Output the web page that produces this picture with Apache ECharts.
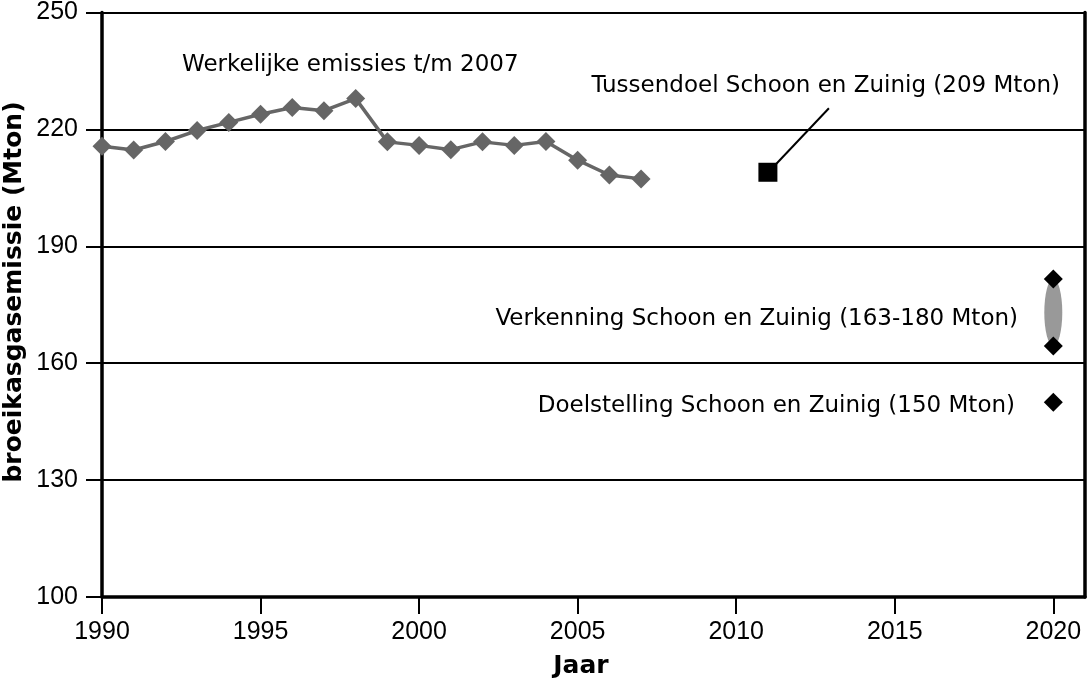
<!DOCTYPE html>
<html><head><meta charset="utf-8">
<script src="https://cdn.jsdelivr.net/npm/echarts@6/dist/echarts.min.js"></script>
<style>html,body{margin:0;padding:0;background:#fff}#c{width:1089px;height:684px}</style>
</head><body><div id="c"></div>
<script>
// ---- data ----
const years = [1990,1991,1992,1993,1994,1995,1996,1997,1998,1999,2000,2001,2002,2003,2004,2005,2006,2007];
const emissions = [215.7,214.7,216.9,219.7,221.8,223.9,225.6,224.8,227.9,216.8,215.9,214.8,216.8,215.9,216.9,212.1,208.3,207.3];
const tussendoel = [[2011, 209]];
const verkenningRange = [[2020, 181.6, 164.4]];
const verkenningPoints = [[2020, 181.6], [2020, 164.4]];
const doelstelling = [[2020, 150]];
const xTicks = [1990,1995,2000,2005,2010,2015,2020];
const yTicks = [100,130,160,190,220,250];
const xName = 'Jaar';
const yName = 'broeikasgasemissie (Mton)';
const lblWerkelijk = 'Werkelijke emissies t/m 2007';
const lblTussendoel = 'Tussendoel Schoon en Zuinig (209 Mton)';
const lblVerkenning = 'Verkenning Schoon en Zuinig (163-180 Mton)';
const lblDoel = 'Doelstelling Schoon en Zuinig (150 Mton)';

const tickFont = 'Liberation Sans, Arial, sans-serif';
const annFont = '23px DejaVu Sans';

const chart = echarts.init(document.getElementById('c'), null, {renderer:'canvas'});
chart.setOption({
  animation: false,
  backgroundColor: '#fff',
  grid: {left: 102, right: 4, top: 9, bottom: 82, containLabel: false},
  xAxis: {
    type: 'value', min: 1990, max: 2021,
    axisLine: {show: true, lineStyle: {color: '#000', width: 3.5}},
    axisTick: {show: true, customValues: xTicks, length: 17, lineStyle: {color: '#000', width: 2}},
    axisLabel: {customValues: xTicks, margin: 23, color: '#000', fontSize: 25, fontFamily: tickFont, formatter: v => String(v)},
    splitLine: {show: false},
    name: xName, nameLocation: 'middle', nameGap: 57,
    nameTextStyle: {fontFamily: 'DejaVu Sans, sans-serif', fontWeight: 'bold', fontSize: 25, color: '#000', padding: [0, 25, 0, 0]}
  },
  yAxis: [{
    type: 'value', min: 100, max: 250,
    axisLine: {show: true, lineStyle: {color: '#000', width: 3.5}},
    axisTick: {show: true, customValues: yTicks, length: 16, lineStyle: {color: '#000', width: 2}},
    axisLabel: {customValues: yTicks, margin: 24, color: '#000', fontSize: 25, fontFamily: tickFont},
    splitLine: {show: false}
  }, {
    type: 'value', min: 100, max: 250, position: 'right',
    axisLine: {show: true, lineStyle: {color: '#000', width: 3.5}},
    axisTick: {show: false}, axisLabel: {show: false}, splitLine: {show: false}
  }],
  graphic: [
    {type: 'text', x: 14, y: 292, rotation: Math.PI / 2,
     style: {text: yName, font: 'bold 25px DejaVu Sans', fill: '#000', align: 'center', verticalAlign: 'middle'}},
    {type: 'text', x: 182, y: 65,
     style: {text: lblWerkelijk, font: annFont, fill: '#000', align: 'left', verticalAlign: 'middle'}},
    {type: 'text', x: 1060, y: 86,
     style: {text: lblTussendoel, font: annFont, fill: '#000', align: 'right', verticalAlign: 'middle'}},
    {type: 'text', x: 1018, y: 319,
     style: {text: lblVerkenning, font: annFont, fill: '#000', align: 'right', verticalAlign: 'middle'}},
    {type: 'text', x: 1015, y: 406,
     style: {text: lblDoel, font: annFont, fill: '#000', align: 'right', verticalAlign: 'middle'}}
  ],
  series: [
    {
      name: 'grid', type: 'line', data: [], z: 1, silent: true,
      markLine: {
        silent: true, symbol: 'none', animation: false,
        label: {show: false},
        lineStyle: {color: '#000', width: 2, type: 'solid'},
        emphasis: {disabled: true},
        data: yTicks.filter(v => v > yTicks[0]).map(v => ({yAxis: v}))
      }
    },
    {
      name: 'Werkelijke emissies', type: 'line', z: 5,
      data: years.map((y, i) => [y, emissions[i]]),
      symbol: 'diamond', symbolSize: 19,
      lineStyle: {color: '#666', width: 3.5},
      itemStyle: {color: '#666', opacity: 1}
    },
    {
      name: 'Tussendoel', type: 'custom', z: 5,
      data: tussendoel, encode: {x: 0, y: 1},
      renderItem: function (params, api) {
        const p = api.coord([api.value(0), api.value(1)]);
        const s = 19;
        return {type: 'group', children: [
          {type: 'line', shape: {x1: p[0] + 8, y1: p[1] - 8, x2: p[0] + 61, y2: p[1] - 64}, style: {stroke: '#000', lineWidth: 2}},
          {type: 'rect', shape: {x: p[0] - s / 2, y: p[1] - s / 2, width: s, height: s}, style: {fill: '#000'}}
        ]};
      }
    },
    {
      name: 'Verkenning bandbreedte', type: 'custom', z: 4,
      data: verkenningRange, encode: {x: 0, y: [1, 2]},
      renderItem: function (params, api) {
        const t = api.coord([api.value(0), api.value(1)]);
        const b = api.coord([api.value(0), api.value(2)]);
        const ry = (b[1] - t[1]) / 2, rx = 9;
        return {type: 'circle', x: t[0], y: (t[1] + b[1]) / 2, scaleX: rx / ry,
          shape: {cx: 0, cy: 0, r: ry}, style: {fill: '#999'}};
      }
    },
    {
      name: 'Verkenning', type: 'scatter', z: 6,
      data: verkenningPoints, symbol: 'diamond', symbolSize: 19,
      itemStyle: {color: '#000', opacity: 1}
    },
    {
      name: 'Doelstelling', type: 'scatter', z: 6,
      data: doelstelling, symbol: 'diamond', symbolSize: 19,
      itemStyle: {color: '#000', opacity: 1}
    }
  ]
});
</script>
</body></html>
